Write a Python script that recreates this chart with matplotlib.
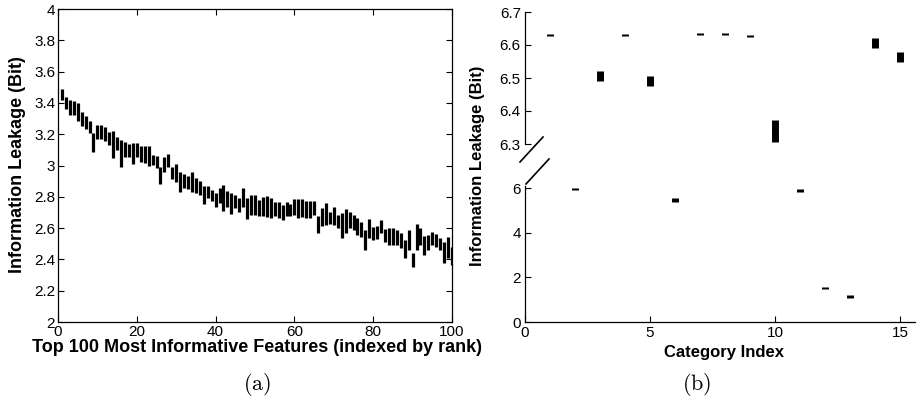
import numpy as np
import matplotlib.pyplot as plt
from matplotlib.lines import Line2D

plt.rcParams['font.family'] = ['Liberation Sans', 'DejaVu Sans']
plt.rcParams['mathtext.fontset'] = 'cm'

# (a) leakage range of the top 100 features, lo/hi per rank
rank = np.arange(1, 101)
feat_lo = [3.418, 3.359, 3.323, 3.323, 3.286, 3.250, 3.233, 3.206, 3.088, 3.168,
           3.170, 3.158, 3.131, 3.046, 3.100, 2.988, 3.056, 3.052, 3.008, 3.052,
           3.024, 3.014, 3.000, 3.003, 2.982, 2.882, 2.960, 2.992, 2.912, 2.897,
           2.829, 2.854, 2.848, 2.833, 2.822, 2.812, 2.754, 2.790, 2.770, 2.733,
           2.763, 2.710, 2.737, 2.690, 2.726, 2.705, 2.733, 2.656, 2.683, 2.683,
           2.677, 2.680, 2.673, 2.667, 2.680, 2.667, 2.652, 2.680, 2.677, 2.684,
           2.667, 2.673, 2.667, 2.667, 2.684, 2.567, 2.613, 2.620, 2.626, 2.620,
           2.600, 2.535, 2.571, 2.600, 2.588, 2.556, 2.545, 2.460, 2.535, 2.524,
           2.528, 2.571, 2.513, 2.492, 2.490, 2.492, 2.470, 2.407, 2.460, 2.354,
           2.460, 2.490, 2.428, 2.460, 2.492, 2.481, 2.460, 2.375, 2.407, 2.364]
feat_hi = [3.487, 3.436, 3.418, 3.414, 3.400, 3.340, 3.318, 3.286, 3.206, 3.259,
           3.259, 3.248, 3.216, 3.222, 3.184, 3.163, 3.152, 3.137, 3.142, 3.142,
           3.127, 3.124, 3.124, 3.067, 3.060, 2.992, 3.052, 3.071, 2.992, 3.010,
           2.960, 2.946, 2.933, 2.956, 2.918, 2.903, 2.869, 2.869, 2.843, 2.822,
           2.854, 2.873, 2.839, 2.826, 2.812, 2.790, 2.854, 2.790, 2.810, 2.810,
           2.780, 2.797, 2.807, 2.790, 2.769, 2.769, 2.748, 2.765, 2.752, 2.784,
           2.788, 2.788, 2.775, 2.775, 2.775, 2.677, 2.726, 2.762, 2.705, 2.737,
           2.684, 2.694, 2.720, 2.700, 2.684, 2.663, 2.640, 2.588, 2.656, 2.610,
           2.613, 2.652, 2.592, 2.600, 2.600, 2.588, 2.567, 2.524, 2.588, 2.440,
           2.626, 2.600, 2.550, 2.556, 2.577, 2.562, 2.535, 2.513, 2.541, 2.481]

# (b) leakage range per category
cat_idx = np.arange(1, 16)
cat_lo = [6.628, 5.93, 6.492, 6.628, 6.475, 5.38, 6.629, 6.629, 6.623, 6.305,
          5.81, 1.47, 1.08, 6.590, 6.547]
cat_hi = [6.634, 6.03, 6.522, 6.634, 6.505, 5.58, 6.635, 6.635, 6.630, 6.372,
          5.96, 1.58, 1.20, 6.622, 6.580]

W, H = 917, 403
fig = plt.figure(figsize=(W / 100, H / 100), dpi=100)

def box(l, r, t, b):
    return [l / W, 1 - b / H, (r - l) / W, (b - t) / H]

tick_kw = dict(direction='in', length=4, width=0.8, labelsize=11, colors='black')

# ---- (a)
ax1 = fig.add_axes(box(58, 452, 9, 322))
ax1.vlines(rank, feat_lo, feat_hi, colors='black', lw=2.3, capstyle='butt')
ax1.set_xlim(0, 100)
ax1.set_ylim(2, 4)
ax1.set_xticks(np.arange(0, 101, 20))
yt = np.arange(2, 4.01, 0.2)
ax1.set_yticks(yt)
ax1.set_yticklabels(['%g' % round(v, 1) for v in yt])
ax1.tick_params(axis='both', which='both', top=True, right=True, pad=2, **tick_kw)
for s in ax1.spines.values():
    s.set_linewidth(0.9)

fig.text(257 / W, 1 - 347 / H, 'Top 100 Most Informative Features (indexed by rank)',
         ha='center', va='center', fontsize=13, fontweight='bold')
fig.text(18 / W, 1 - 165 / H, 'Information Leakage (Bit)', rotation=90,
         ha='center', va='center', fontsize=13, fontweight='bold')

# ---- (b) broken axis: upper part 6.3-6.7, lower part 0-6
ax_up = fig.add_axes(box(525, 915, 12, 144))
ax_lo = fig.add_axes(box(525, 915, 186, 322))
for ax in (ax_up, ax_lo):
    ax.vlines(cat_idx, cat_lo, cat_hi, colors='black', lw=5, capstyle='butt')
    ax.set_xlim(0, 15.6)
    ax.spines['top'].set_visible(False)
    ax.spines['right'].set_visible(False)
    for s in ax.spines.values():
        s.set_linewidth(0.9)
    ax.patch.set_visible(False)

ax_up.set_ylim(6.3, 6.7)
ax_up.set_yticks([6.3, 6.4, 6.5, 6.6, 6.7])
ax_up.spines['bottom'].set_visible(False)
ax_up.set_xticks([])
ax_up.tick_params(axis='y', pad=3, **tick_kw)

ax_lo.set_ylim(0, 6.1)
ax_lo.set_yticks([0, 2, 4, 6])
ax_lo.set_xticks([0, 5, 10, 15])
ax_lo.tick_params(axis='both', pad=3, **tick_kw)

# break marks on the y axis
for (x0, y0, x1, y1) in [(520, 162, 543, 137), (526, 184, 549, 159)]:
    fig.add_artist(Line2D([x0 / W, x1 / W], [1 - y0 / H, 1 - y1 / H],
                          transform=fig.transFigure, color='black', lw=1.2))

fig.text(724 / W, 1 - 352 / H, 'Category Index',
         ha='center', va='center', fontsize=12, fontweight='bold')
fig.text(478 / W, 1 - 166 / H, 'Information Leakage (Bit)', rotation=90,
         ha='center', va='center', fontsize=12, fontweight='bold')

fig.text(257 / W, 1 - 385 / H, r'$\mathrm{(a)}$', ha='center', va='center', fontsize=16)
fig.text(697 / W, 1 - 385 / H, r'$\mathrm{(b)}$', ha='center', va='center', fontsize=16)

fig.savefig('out.png', dpi=100)
